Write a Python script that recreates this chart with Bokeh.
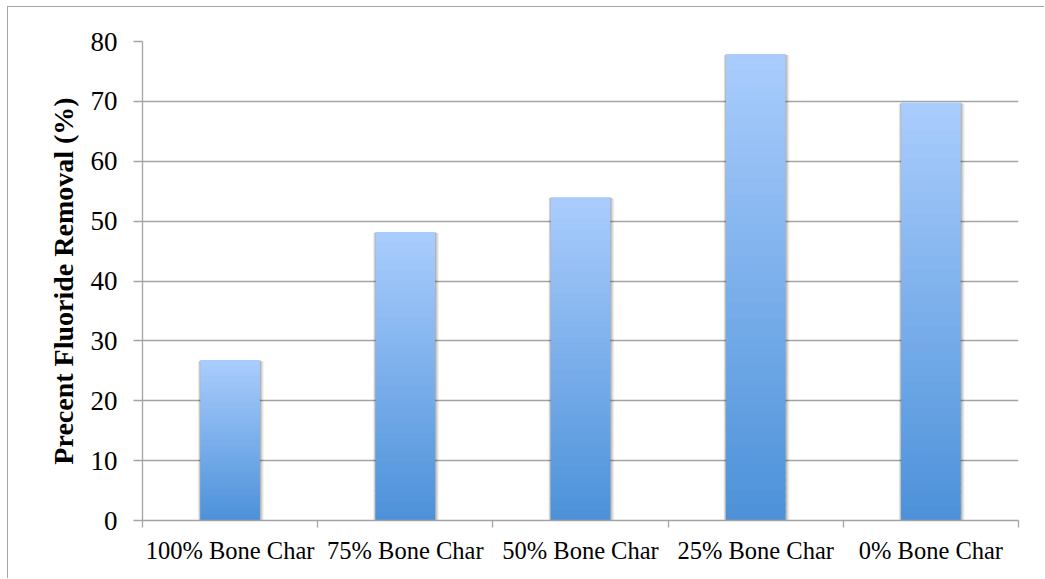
from bokeh.plotting import figure
from bokeh.models import Range1d, FixedTicker, ColumnDataSource
from bokeh.embed import file_html
from bokeh.resources import INLINE

# ---- data ----
categories = ["100% Bone Char", "75% Bone Char", "50% Bone Char", "25% Bone Char", "0% Bone Char"]
removal = [26.8, 48.2, 54.0, 77.9, 69.8]
y_ticks = [0, 10, 20, 30, 40, 50, 60, 70, 80]

# ---- style ----
BAR_W = 0.34
N_SEG = 60
TOP_RGB = (170, 205, 253)
BOT_RGB = (76, 145, 217)
GRID = "#a4a4a4"
FONT = "Liberation Serif"

p = figure(width=1037, height=572, output_backend="svg", toolbar_location=None,
           x_range=Range1d(0, len(categories)), y_range=Range1d(0, 80),
           min_border_left=134, min_border_right=27, min_border_top=34, min_border_bottom=59)
p.styles = {"margin-left": "7px", "margin-top": "6px",
            "border-left": "1px solid #a6a6a6", "border-top": "1px solid #a6a6a6"}
p.outline_line_color = None
p.background_fill_color = "white"
p.border_fill_color = "white"

# grid
p.xgrid.grid_line_color = None
p.ygrid.grid_line_color = GRID
p.ygrid.grid_line_width = 1.3
p.ygrid.ticker = FixedTicker(ticks=y_ticks)

# shadows (px offsets converted to data units)
px_x = len(categories) / 876.0
px_y = 80 / 479.0
xs = [i + 0.5 for i in range(len(categories))]
for off, alpha in [(4, 0.05), (3, 0.07), (2, 0.09), (1, 0.12)]:
    p.quad(left=[x - BAR_W / 2 - off * px_x * 0.6 for x in xs],
           right=[x + BAR_W / 2 + off * px_x for x in xs],
           bottom=[-off * px_y for _ in xs],
           top=[v - off * px_y * 0.3 for v in removal],
           fill_color="black", fill_alpha=alpha, line_color=None)

# gradient bars
lefts, rights, bottoms, tops, colors = [], [], [], [], []
for x, v in zip(xs, removal):
    for k in range(N_SEG):
        t = (k + 0.5) / N_SEG
        r = round(BOT_RGB[0] + (TOP_RGB[0] - BOT_RGB[0]) * t)
        g = round(BOT_RGB[1] + (TOP_RGB[1] - BOT_RGB[1]) * t)
        b = round(BOT_RGB[2] + (TOP_RGB[2] - BOT_RGB[2]) * t)
        lefts.append(x - BAR_W / 2)
        rights.append(x + BAR_W / 2)
        bottoms.append(v * k / N_SEG)
        tops.append(v * (k + 1) / N_SEG + (0.0 if k == N_SEG - 1 else v / N_SEG * 0.3))
        colors.append("#%02x%02x%02x" % (r, g, b))
src = ColumnDataSource(dict(left=lefts, right=rights, bottom=bottoms, top=tops, color=colors))
p.quad(left="left", right="right", bottom="bottom", top="top", fill_color="color",
       line_color=None, source=src)

# x axis
xa = p.xaxis[0]
xa.ticker = FixedTicker(ticks=xs, minor_ticks=list(range(len(categories) + 1)))
xa.major_label_overrides = {x: c for x, c in zip(xs, categories)}
xa.major_tick_out = 0
xa.major_tick_in = 0
xa.minor_tick_out = 7
xa.minor_tick_in = 0
xa.minor_tick_line_color = GRID
xa.minor_tick_line_width = 1.3
xa.axis_line_color = GRID
xa.axis_line_width = 1.3
xa.major_label_text_font = FONT
xa.major_label_text_font_size = "24.5px"
xa.major_label_text_color = "black"
xa.major_label_standoff = 9

# y axis
ya = p.yaxis[0]
ya.ticker = FixedTicker(ticks=y_ticks)
ya.minor_tick_line_color = None
ya.major_tick_out = 9
ya.major_tick_in = 0
ya.major_tick_line_color = GRID
ya.major_tick_line_width = 1.3
ya.axis_line_color = GRID
ya.axis_line_width = 1.3
ya.major_label_text_font = FONT
ya.major_label_text_font_size = "27px"
ya.major_label_text_color = "black"
ya.major_label_standoff = 16
ya.axis_label = "Precent Fluoride Removal (%)"
ya.axis_label_text_font = FONT
ya.axis_label_text_font_style = "bold"
ya.axis_label_text_font_size = "28px"
ya.axis_label_text_color = "black"
ya.axis_label_standoff = 9

open("out.html", "w").write(file_html(p, INLINE))
